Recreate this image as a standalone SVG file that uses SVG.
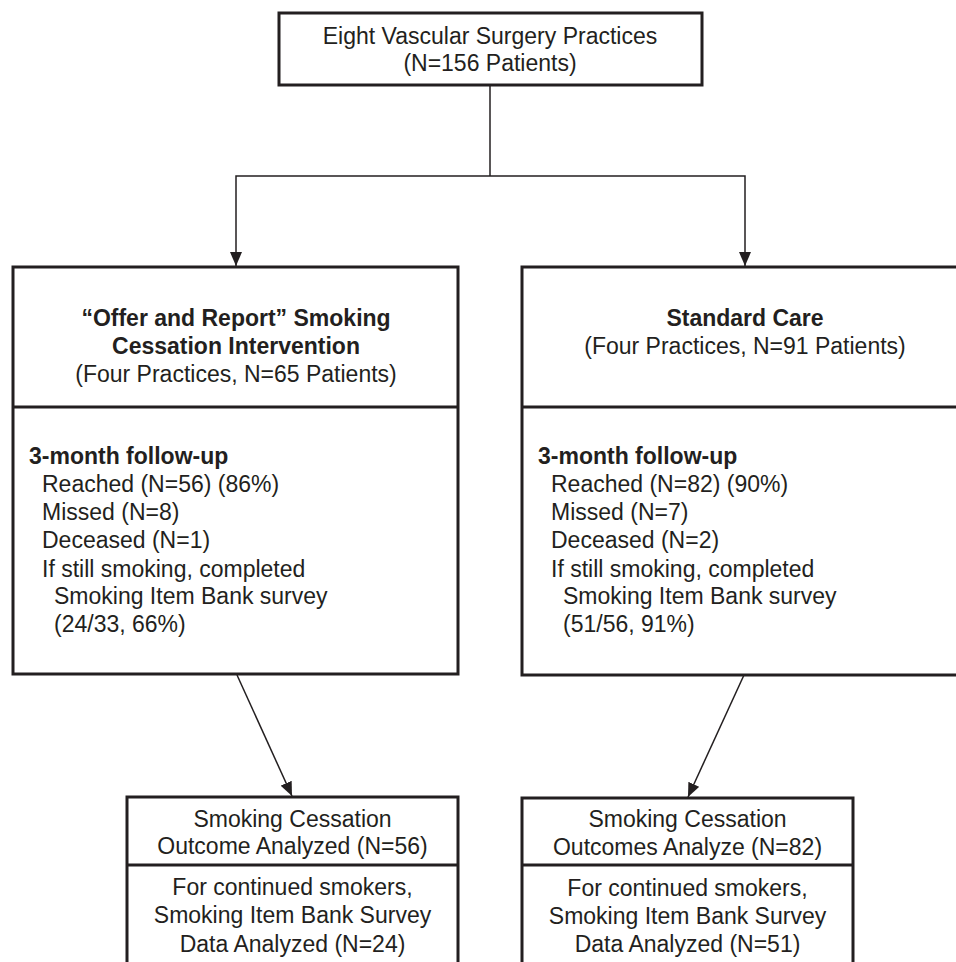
<svg xmlns="http://www.w3.org/2000/svg" width="956" height="962" viewBox="0 0 956 962">
<style>
.box{fill:#fff;stroke:#231f20;stroke-width:3}
.div{stroke:#231f20;stroke-width:3;fill:none}
.t{font-family:"Liberation Sans",Arial,sans-serif;font-size:23px;fill:#231f20}
.c{text-anchor:middle}
.b{font-weight:bold}
.conn{stroke:#231f20;stroke-width:1.5;fill:none}
</style>
<defs>
<marker id="ah" markerUnits="userSpaceOnUse" markerWidth="14" markerHeight="12" refX="14" refY="6" orient="auto" viewBox="0 0 14 12">
<path d="M0,0 L14,6 L0,12 z" fill="#231f20"/>
</marker>
</defs>
<rect width="956" height="962" fill="#fff"/>
<g id="connectors">
<path class="conn" d="M490,85 V176"/>
<path class="conn" d="M490,176 H236 V266" marker-end="url(#ah)"/>
<path class="conn" d="M490,176 H745 V266" marker-end="url(#ah)"/>
<path class="conn" d="M237,675 L292,796" marker-end="url(#ah)"/>
<path class="conn" d="M744,675 L688,797" marker-end="url(#ah)"/>
</g>
<g id="top">
<rect class="box" x="279" y="13" width="423" height="72"/>
<text class="t c" x="490" y="44">Eight Vascular Surgery Practices</text>
<text class="t c" x="490" y="71">(N=156 Patients)</text>
</g>
<g id="intervention">
<rect class="box" x="13" y="267" width="445" height="407"/>
<line class="div" x1="13" y1="407" x2="458" y2="407"/>
<text class="t c b" x="236" y="326">“Offer and Report” Smoking</text>
<text class="t c b" x="236" y="354">Cessation Intervention</text>
<text class="t c" x="236" y="382">(Four Practices, N=65 Patients)</text>
<text class="t b" x="29" y="464">3-month follow-up</text>
<text class="t" x="42" y="492">Reached (N=56) (86%)</text>
<text class="t" x="42" y="520">Missed (N=8)</text>
<text class="t" x="42" y="548">Deceased (N=1)</text>
<text class="t" x="42" y="577">If still smoking, completed</text>
<text class="t" x="54" y="604">Smoking Item Bank survey</text>
<text class="t" x="54" y="632">(24/33, 66%)</text>
</g>
<g id="standard">
<rect class="box" x="522" y="267" width="446" height="408"/>
<line class="div" x1="522" y1="407" x2="968" y2="407"/>
<text class="t c b" x="745" y="326">Standard Care</text>
<text class="t c" x="745" y="354">(Four Practices, N=91 Patients)</text>
<text class="t b" x="538" y="464">3-month follow-up</text>
<text class="t" x="551" y="492">Reached (N=82) (90%)</text>
<text class="t" x="551" y="520">Missed (N=7)</text>
<text class="t" x="551" y="548">Deceased (N=2)</text>
<text class="t" x="551" y="577">If still smoking, completed</text>
<text class="t" x="563" y="604">Smoking Item Bank survey</text>
<text class="t" x="563" y="632">(51/56, 91%)</text>
</g>
<g id="outcome-left">
<rect class="box" x="127" y="797" width="331" height="180"/>
<line class="div" x1="127" y1="865" x2="458" y2="865"/>
<text class="t c" x="292.5" y="827">Smoking Cessation</text>
<text class="t c" x="292.5" y="854">Outcome Analyzed (N=56)</text>
<text class="t c" x="292.5" y="895">For continued smokers,</text>
<text class="t c" x="292.5" y="923">Smoking Item Bank Survey</text>
<text class="t c" x="292.5" y="952">Data Analyzed (N=24)</text>
</g>
<g id="outcome-right">
<rect class="box" x="522" y="798" width="331" height="180"/>
<line class="div" x1="522" y1="865" x2="853" y2="865"/>
<text class="t c" x="687.5" y="827">Smoking Cessation</text>
<text class="t c" x="687.5" y="855">Outcomes Analyze (N=82)</text>
<text class="t c" x="687.5" y="896">For continued smokers,</text>
<text class="t c" x="687.5" y="924">Smoking Item Bank Survey</text>
<text class="t c" x="687.5" y="952">Data Analyzed (N=51)</text>
</g>
</svg>
